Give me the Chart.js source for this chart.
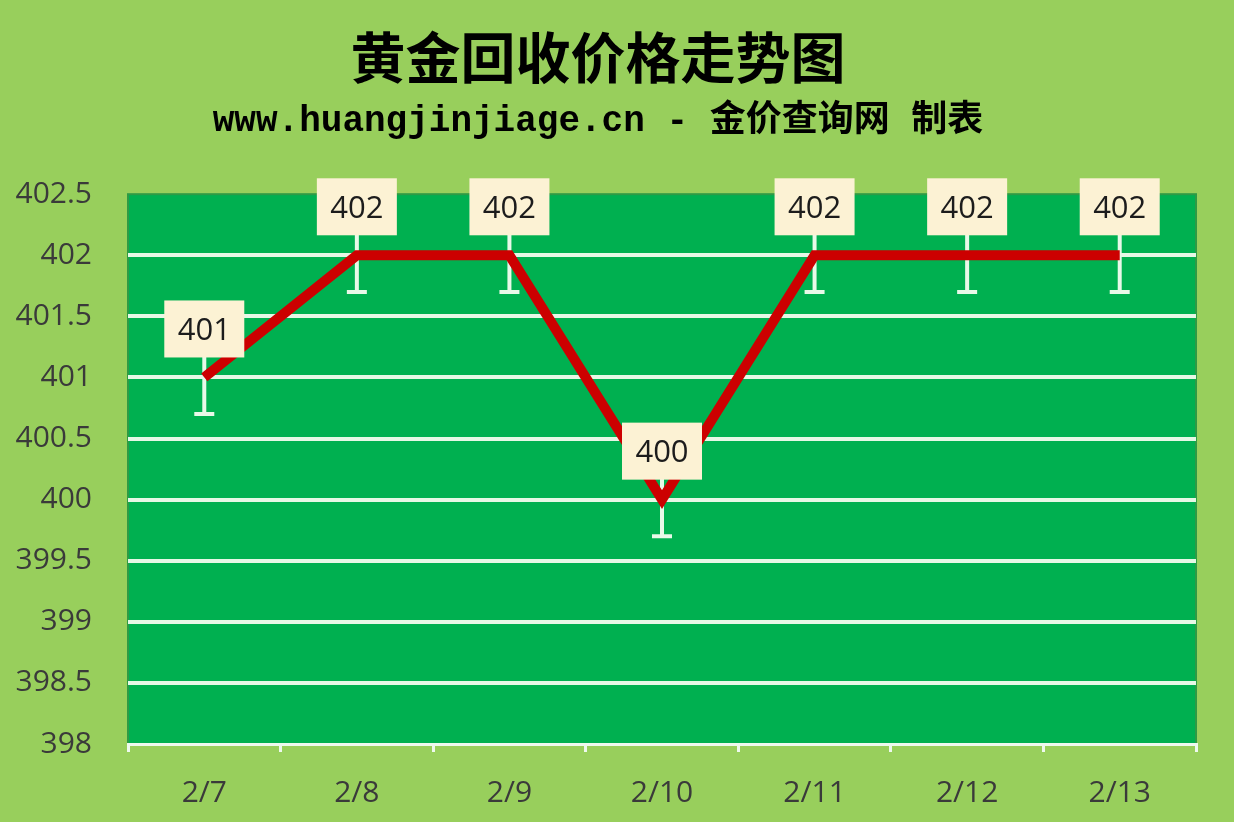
<!DOCTYPE html>
<html>
<head>
<meta charset="utf-8">
<script src="https://cdn.jsdelivr.net/npm/chart.js@4"></script>
<style>
  html, body { margin: 0; padding: 0; background: #98cf5c; }
  #wrap { width: 1234px; height: 822px; }
</style>
</head>
<body>
<div id="wrap"><canvas id="gold_chart"></canvas></div>
<script>
// 数据
const dates = ['2/7', '2/8', '2/9', '2/10', '2/11', '2/12', '2/13'];
const prices = [401, 402, 402, 400, 402, 402, 402];
const errorBars = [0.3, 0.3, 0.3, 0.3, 0.3, 0.3, 0.3];
const yTicks = [398, 398.5, 399, 399.5, 400, 400.5, 401, 401.5, 402, 402.5];

const chartTitle = '黄金回收价格走势图';
const chartSubtitle = 'www.huangjinjiage.cn - 金价查询网 制表';

const tickFont = "'Open Sans', 'Liberation Sans', sans-serif";

// 绘图区背景
const plotBg = {
  id: 'plotBg',
  beforeDraw(chart) {
    const { ctx, chartArea: a } = chart;
    ctx.save();
    ctx.fillStyle = '#00b050';
    ctx.fillRect(a.left, a.top, a.width, a.height);
    ctx.strokeStyle = '#2e9a45';
    ctx.lineWidth = 2;
    ctx.strokeRect(a.left, a.top, a.width, a.height);
    ctx.restore();
  }
};

// 误差线
const errBars = {
  id: 'errBars',
  beforeDatasetsDraw(chart) {
    const { ctx, scales } = chart;
    ctx.save();
    ctx.strokeStyle = '#e8f9e8';
    ctx.lineWidth = 4;
    prices.forEach((v, i) => {
      const x = scales.x.getPixelForValue(i);
      const yHi = scales.y.getPixelForValue(v + errorBars[i]);
      const yLo = scales.y.getPixelForValue(v - errorBars[i]);
      ctx.beginPath();
      ctx.moveTo(x, yHi);
      ctx.lineTo(x, yLo);
      ctx.moveTo(x - 10, yLo);
      ctx.lineTo(x + 10, yLo);
      ctx.moveTo(x - 10, yHi);
      ctx.lineTo(x + 10, yHi);
      ctx.stroke();
    });
    ctx.restore();
  }
};

// 数据标签
const dataLabels = {
  id: 'dataLabels',
  afterDatasetsDraw(chart) {
    const { ctx, scales } = chart;
    ctx.save();
    ctx.font = '31px ' + tickFont;
    ctx.textAlign = 'center';
    ctx.textBaseline = 'middle';
    prices.forEach((v, i) => {
      const x = scales.x.getPixelForValue(i);
      const y = scales.y.getPixelForValue(v);
      const w = 80, h = 57;
      const bottom = y - 20;
      ctx.fillStyle = '#fcf2d4';
      ctx.fillRect(x - w / 2, bottom - h, w, h);
      ctx.fillStyle = '#1c1c1c';
      ctx.fillText(String(v), x, bottom - h / 2 + 2);
    });
    ctx.restore();
  }
};

new Chart(document.getElementById('gold_chart'), {
  type: 'line',
  data: {
    labels: dates,
    datasets: [{
      label: '价格',
      data: prices,
      borderColor: '#cc0000',
      borderWidth: 10,
      pointRadius: 0,
      tension: 0,
      borderJoinStyle: 'miter'
    }]
  },
  options: {
    responsive: true,
    maintainAspectRatio: false,
    animation: false,
    layout: {
      padding: { top: 0, left: 0, right: 38, bottom: 0 }
    },
    plugins: {
      legend: { display: false },
      tooltip: { enabled: false },
      title: {
        display: true,
        text: chartTitle,
        color: '#000',
        font: { family: "'Noto Sans CJK SC', sans-serif", size: 55, weight: 'bold', lineHeight: 1.2 },
        padding: { top: 24, bottom: 0 }
      },
      subtitle: {
        display: true,
        text: chartSubtitle,
        color: '#000',
        font: { family: "'Liberation Mono', 'Noto Sans CJK SC', monospace", size: 36, weight: 'bold', lineHeight: 1.2 },
        padding: { top: 10, bottom: 51 }
      }
    },
    scales: {
      x: {
        offset: true,
        grid: {
          offset: true,
          drawOnChartArea: false,
          drawTicks: true,
          tickLength: 8,
          color: '#eef9ee',
          lineWidth: 3
        },
        border: { display: true, color: '#eef9ee', width: 3 },
        ticks: {
          color: '#3a3a3a',
          padding: 23,
          font: { family: tickFont, size: 30 }
        },
        afterFit(scale) { scale.height = 78; }
      },
      y: {
        min: 398,
        max: 402.5,
        afterBuildTicks(scale) {
          scale.ticks = yTicks.map(v => ({ value: v }));
        },
        grid: {
          drawTicks: false,
          lineWidth: 4,
          color: (c) => (c.tick && (c.tick.value === 398 || c.tick.value === 402.5)) ? 'rgba(0,0,0,0)' : '#e6f8e6'
        },
        border: { display: false },
        ticks: {
          color: '#3a3a3a',
          padding: 36,
          font: { family: tickFont, size: 30 },
          callback: (v) => String(v)
        },
        afterFit(scale) { scale.width = 128; }
      }
    }
  },
  plugins: [plotBg, errBars, dataLabels]
});
</script>
</body>
</html>
